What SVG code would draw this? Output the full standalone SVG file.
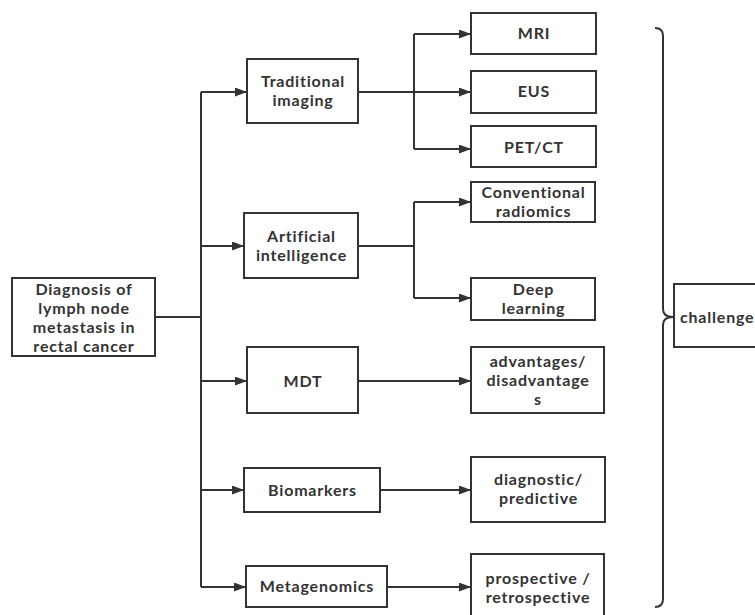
<svg xmlns="http://www.w3.org/2000/svg" width="755" height="615" viewBox="0 0 755 615">
<defs>
<style>
.box{fill:#fff;stroke:#333;stroke-width:2}
.t{font-family:Lato,"Liberation Sans",sans-serif;font-weight:bold;font-size:16px;letter-spacing:0.8px;fill:#333;text-anchor:middle}
.c{fill:none;stroke:#333;stroke-width:2}
</style>
<marker id="ah" markerWidth="12" markerHeight="9" refX="12" refY="4.5" orient="auto" markerUnits="userSpaceOnUse">
<polygon points="0,0 12,4.5 0,9" fill="#333"/>
</marker>
</defs>
<rect width="755" height="615" fill="#fff"/>
<g id="connectors">
<path class="c" d="M155,317 H201"/>
<path class="c" d="M201,92 V587"/>
<path class="c" d="M201,92 H247" marker-end="url(#ah)"/>
<path class="c" d="M201,246 H244" marker-end="url(#ah)"/>
<path class="c" d="M201,381 H247" marker-end="url(#ah)"/>
<path class="c" d="M201,490 H244" marker-end="url(#ah)"/>
<path class="c" d="M201,587 H246" marker-end="url(#ah)"/>
<path class="c" d="M358,92 H414"/>
<path class="c" d="M414,34 V149"/>
<path class="c" d="M414,34 H471" marker-end="url(#ah)"/>
<path class="c" d="M414,92 H471" marker-end="url(#ah)"/>
<path class="c" d="M414,149 H471" marker-end="url(#ah)"/>
<path class="c" d="M358,246 H414"/>
<path class="c" d="M414,202 V298"/>
<path class="c" d="M414,202 H471" marker-end="url(#ah)"/>
<path class="c" d="M414,298 H471" marker-end="url(#ah)"/>
<path class="c" d="M358,381 H471" marker-end="url(#ah)"/>
<path class="c" d="M380,490 H471" marker-end="url(#ah)"/>
<path class="c" d="M387,587 H471" marker-end="url(#ah)"/>
<path class="c" d="M655,28 Q663,28 663,36 V309 Q663,317 673,317 Q663,317 663,325 V599 Q663,607 655,607"/>
</g>
<g id="root"><rect class="box" x="12" y="278" width="143" height="78"/>
<text class="t" x="84" y="295">Diagnosis of</text><text class="t" x="84" y="314">lymph node</text><text class="t" x="84" y="333">metastasis in</text><text class="t" x="84" y="352">rectal cancer</text></g>
<g id="trad"><rect class="box" x="247" y="59" width="111" height="64"/>
<text class="t" x="303" y="87">Traditional</text><text class="t" x="303" y="106">imaging</text></g>
<g id="mri"><rect class="box" x="471" y="13" width="125" height="41"/><text class="t" x="534" y="39">MRI</text></g>
<g id="eus"><rect class="box" x="471" y="71" width="125" height="42"/><text class="t" x="534" y="97">EUS</text></g>
<g id="petct"><rect class="box" x="471" y="126" width="125" height="41"/><text class="t" x="534" y="153">PET/CT</text></g>
<g id="ai"><rect class="box" x="244" y="213" width="114" height="65"/>
<text class="t" x="301.5" y="242">Artificial</text><text class="t" x="301.5" y="261">intelligence</text></g>
<g id="radiomics"><rect class="box" x="471" y="182" width="124" height="40"/>
<text class="t" x="533.5" y="198">Conventional</text><text class="t" x="533.5" y="217">radiomics</text></g>
<g id="deep"><rect class="box" x="471" y="278" width="124" height="42"/>
<text class="t" x="533.5" y="295">Deep</text><text class="t" x="533.5" y="314">learning</text></g>
<g id="mdt"><rect class="box" x="247" y="347" width="111" height="66"/><text class="t" x="303" y="387">MDT</text></g>
<g id="adv"><rect class="box" x="471" y="347" width="133" height="66"/>
<text class="t" x="538" y="367">advantages/</text><text class="t" x="538" y="386">disadvantage</text><text class="t" x="538" y="405">s</text></g>
<g id="bio"><rect class="box" x="244" y="468" width="136" height="44"/><text class="t" x="312.5" y="496">Biomarkers</text></g>
<g id="diag"><rect class="box" x="471" y="457" width="134" height="65"/>
<text class="t" x="538.5" y="485">diagnostic/</text><text class="t" x="538.5" y="504">predictive</text></g>
<g id="meta"><rect class="box" x="246" y="566" width="141" height="41"/><text class="t" x="317" y="592">Metagenomics</text></g>
<g id="prosp"><rect class="box" x="471" y="554" width="133" height="68"/>
<text class="t" x="538" y="584">prospective /</text><text class="t" x="538" y="603">retrospective</text></g>
<g id="challenge"><rect class="box" x="674" y="284" width="90" height="63"/>
<text class="t" x="680" y="323" style="text-anchor:start">challenge</text></g>
</svg>
